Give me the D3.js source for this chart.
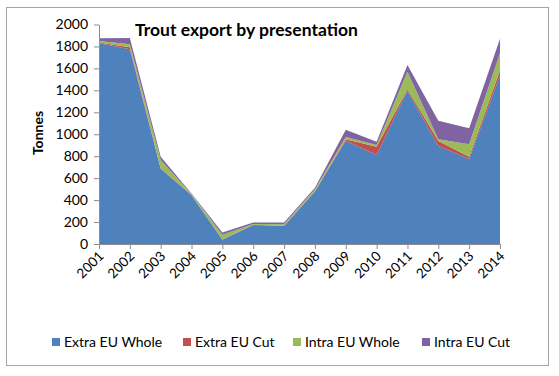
<!DOCTYPE html>
<html>
<head>
<meta charset="utf-8">
<script src="https://cdn.jsdelivr.net/npm/d3@7"></script>
<style>
  body { margin: 0; background: #fff; }
  text { font-family: Lato, "Open Sans", sans-serif; fill: #000; }
</style>
</head>
<body>
<svg id="chart" width="559" height="376"></svg>
<script>
var years = ['2001','2002','2003','2004','2005','2006','2007','2008','2009','2010','2011','2012','2013','2014'];
var seriesNames = ['Extra EU Whole','Extra EU Cut','Intra EU Whole','Intra EU Cut'];
var colors = ['#4f81bd','#c0504d','#9bbb59','#8064a2'];
var extraWhole = [1830,1775,685,445,38,173,165,478,940,810,1397,893,775,1535];
var extraCut   = [5,18,5,2,2,2,2,2,15,75,13,45,20,45];
var intraWhole = [15,28,75,8,45,8,13,18,20,17,160,16,115,160];
var intraCut   = [25,55,30,5,20,12,15,15,65,30,62,170,145,130];
var yTicks = [0,200,400,600,800,1000,1200,1400,1600,1800,2000];

var rows = years.map(function(yr, i) {
    return {year: yr, 'Extra EU Whole': extraWhole[i], 'Extra EU Cut': extraCut[i],
            'Intra EU Whole': intraWhole[i], 'Intra EU Cut': intraCut[i]};
});

var svg = d3.select("#chart");
var plotL = 99, plotR = 500, plotT = 24.5, plotB = 244;

// outer frame
svg.append("rect")
    .attr("x", 6.5).attr("y", 7.5)
    .attr("width", 542).attr("height", 358)
    .style("fill", "none").style("stroke", "#a6a6a6").style("stroke-width", 1);

var x = d3.scalePoint().domain(years).range([plotL, plotR]);
var y = d3.scaleLinear().domain([0, 2000]).range([plotB, plotT]);

var stack = d3.stack().keys(seriesNames);
var layers = stack(rows);

var area = d3.area()
    .x(function(d) { return x(d.data.year); })
    .y0(function(d) { return y(d[0]); })
    .y1(function(d) { return y(d[1]); });

svg.selectAll("path.layer")
    .data(layers)
    .enter()
    .append("path")
    .attr("class", "layer")
    .attr("d", area)
    .style("fill", function(d, i) { return colors[i]; });

// y axis
var yAxis = d3.axisLeft(y).tickValues(yTicks).tickFormat(d3.format("d"))
    .tickSize(5).tickSizeOuter(0).tickPadding(6);
var gy = svg.append("g").attr("transform", "translate(" + plotL + ",0)").call(yAxis);
gy.selectAll("text").style("font-size", "14px").style("font-family", "Lato, sans-serif");

// x axis
var xAxis = d3.axisBottom(x).tickSize(5).tickSizeOuter(0);
var gx = svg.append("g").attr("transform", "translate(0," + plotB + ")").call(xAxis);
gx.selectAll("text")
    .style("font-size", "13.5px").style("font-family", "Lato, sans-serif")
    .style("text-anchor", "end")
    .attr("dy", null).attr("y", 0)
    .attr("transform", "translate(5,13) rotate(-45)");

[gx, gy].forEach(function(g) {
    g.select(".domain").style("stroke", "#8c8c8c");
    g.selectAll(".tick line").style("stroke", "#8c8c8c");
});

// title
svg.append("text")
    .attr("x", 135).attr("y", 36)
    .style("font-size", "17.5px").style("font-weight", "bold")
    .text("Trout export by presentation");

// y label
svg.append("text")
    .attr("transform", "translate(43,133) rotate(-90)")
    .style("text-anchor", "middle")
    .style("font-size", "14px").style("font-weight", "bold")
    .text("Tonnes");

// legend
var legendX = [52, 183, 293, 422];
var leg = svg.selectAll("g.legend")
    .data(seriesNames)
    .enter()
    .append("g")
    .attr("class", "legend")
    .attr("transform", function(d, i) { return "translate(" + legendX[i] + ",338)"; });
leg.append("rect")
    .attr("width", 8).attr("height", 8)
    .style("fill", function(d, i) { return colors[i]; });
leg.append("text")
    .attr("x", 12).attr("y", 8.5)
    .style("font-size", "14px")
    .text(function(d) { return d; });
</script>
</body>
</html>
